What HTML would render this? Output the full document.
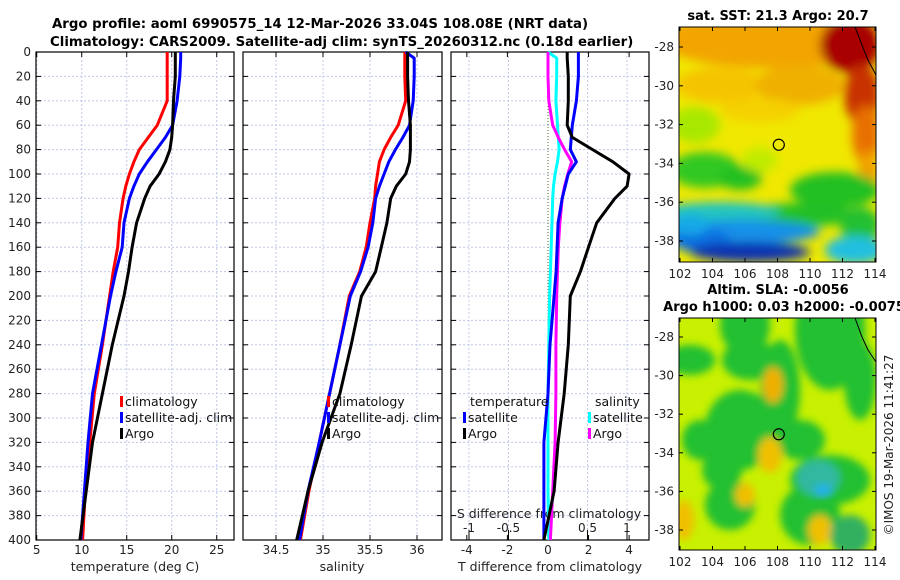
<!DOCTYPE html>
<html><head><meta charset="utf-8">
<style>
body{margin:0;background:#fff;}
svg{display:block;font-family:"DejaVu Sans","Liberation Sans",sans-serif;}
</style></head>
<body>
<svg id="c" width="900" height="580" viewBox="0 0 900 580">
<defs>
<filter id="bl" x="-30%" y="-30%" width="160%" height="160%"><feGaussianBlur stdDeviation="5"/></filter>
<filter id="bl2" x="-30%" y="-30%" width="160%" height="160%"><feGaussianBlur stdDeviation="4"/></filter>
<clipPath id="cp1"><rect x="679" y="27" width="197" height="235"/></clipPath>
<clipPath id="cp2"><rect x="679" y="318" width="197" height="232"/></clipPath>
</defs>
<text x="52" y="28" font-size="13.3" font-weight="bold">Argo profile: aoml 6990575_14 12-Mar-2026 33.04S 108.08E (NRT data)</text>
<text x="50" y="46" font-size="13.3" font-weight="bold">Climatology: CARS2009. Satellite-adj clim: synTS_20260312.nc (0.18d earlier)</text>
<g id="maps"></g>
<g id="plots"></g>
</svg>
<script>
// ---- data ----
const depths = [0,5,20,40,60,70,80,90,100,110,120,140,160,180,200,240,280,320,360,400];
const tClim = [19.5,19.5,19.5,19.5,18.4,17.4,16.4,15.8,15.3,14.9,14.6,14.2,14.0,13.5,13.1,12.3,11.4,10.9,10.4,10.1];
const tSat  = [21.0,21.0,20.9,20.6,20.1,19.3,18.3,17.3,16.4,15.8,15.3,14.7,14.5,13.8,13.2,12.2,11.2,10.7,10.3,9.9];
const tArgo = [20.4,20.4,20.4,20.2,20.1,20.0,19.8,19.3,18.6,17.6,17.0,16.1,15.6,15.2,14.7,13.4,12.3,11.2,10.5,9.8];
const sClim = [35.87,35.87,35.87,35.88,35.80,35.72,35.65,35.60,35.58,35.56,35.55,35.50,35.46,35.39,35.28,35.18,35.07,34.96,34.85,34.76];
const sSat  = [35.88,35.97,35.97,35.96,35.92,35.85,35.77,35.70,35.65,35.60,35.56,35.53,35.48,35.40,35.29,35.18,35.07,34.96,34.84,34.75];
const sArgo = [35.90,35.90,35.90,35.91,35.93,35.93,35.93,35.92,35.88,35.78,35.72,35.68,35.62,35.56,35.41,35.30,35.18,34.99,34.84,34.72];
const dtSat  = [1.5,1.5,1.5,1.4,1.2,1.15,1.1,1.4,1.0,0.85,0.7,0.5,0.45,0.4,0.3,0.1,0.0,-0.2,-0.2,-0.2];
const dtArgo = [0.95,0.95,1.0,1.0,0.95,1.2,2.2,3.2,4.0,3.9,3.3,2.4,2.0,1.6,1.1,1.0,0.8,0.5,0.3,-0.2];
const dsSat  = [0.0,0.11,0.11,0.1,0.12,0.13,0.14,0.12,0.09,0.07,0.06,0.05,0.04,0.03,0.02,0.01,0.0,0.0,0.0,0.01];
const dsArgo = [0.0,0.0,0.0,0.01,0.06,0.13,0.21,0.3,0.25,0.21,0.18,0.15,0.13,0.12,0.11,0.1,0.1,0.09,0.06,0.03];
const yTicks = [0,20,40,60,80,100,120,140,160,180,200,220,240,260,280,300,320,340,360,380,400];
const tTicks = [5,10,15,20,25];
const sTicks = [34.5,35,35.5,36];
const dtTicks = [-4,-2,0,2,4];
const dsTicks = [-1,-0.5,0,0.5,1];
const lonTicks = [102,104,106,108,110,112,114];
const latTicks = [-28,-30,-32,-34,-36,-38];
const argoLon = 108.08, argoLat = -33.04;

const NS='http://www.w3.org/2000/svg';
const P=document.getElementById('plots');
function el(tag,attrs,parent,txt){const e=document.createElementNS(NS,tag);for(const k in attrs)e.setAttribute(k,attrs[k]);if(txt!==undefined)e.textContent=txt;(parent||P).appendChild(e);return e;}
const yTop=52,yBot=540;
const yD=d=>yTop+(d/400)*(yBot-yTop);
const panels=[{x0:36,x1:234,min:4.92,max:26.92},{x0:243,x1:442,min:34.149,max:36.266},{x0:451,x1:649,min:-4.78,max:4.98}];
const sx=(p,v)=>p.x0+(v-p.min)/(p.max-p.min)*(p.x1-p.x0);
const sxDS=v=>548+v*79;

function frame(p,name,gridVals,gridFn){
  const g=el('g',{});
  
  
  gridVals.forEach(v=>{const x=gridFn(v);el('line',{x1:x,x2:x,y1:yTop,y2:yBot,stroke:'#c0c8e8','stroke-width':1,'stroke-dasharray':'2,2'},g);});
  yTicks.forEach(d=>{const y=yD(d);
    el('line',{x1:p.x0,x2:p.x1,y1:y,y2:y,stroke:'#c0c8e8','stroke-width':1,'stroke-dasharray':'2,2'},g);
    el('line',{x1:p.x0,x2:p.x0+5,y1:y,y2:y,stroke:'#000'},g);
    el('line',{x1:p.x1-5,x2:p.x1,y1:y,y2:y,stroke:'#000'},g);
  });
  el('rect',{x:p.x0,y:yTop,width:p.x1-p.x0,height:yBot-yTop,fill:'none',stroke:'#000','stroke-width':1.2},g);
  return g;
}
function line(xs,fx,color,name,w){
  const pts=depths.map((d,i)=>fx(xs[i]).toFixed(1)+','+yD(d).toFixed(1)).join(' ');
  const l=el('polyline',{points:pts,fill:'none',stroke:color,'stroke-width':w||3,'stroke-linejoin':'round'});
  
  
}
const p1=panels[0],p2=panels[1],p3=panels[2];
const g1=frame(p1,'temperature-panel',tTicks,v=>sx(p1,v));
tTicks.forEach(v=>{const x=sx(p1,v);el('line',{x1:x,x2:x,y1:yBot-5,y2:yBot,stroke:'#000'},g1);el('line',{x1:x,x2:x,y1:yTop,y2:yTop+5,stroke:'#000'},g1);
  const t=el('text',{x:x,y:554,'text-anchor':'middle','font-size':12,fill:'#222'},g1,String(v));});
yTicks.forEach(d=>{const t=el('text',{x:31,y:yD(d)+4,'text-anchor':'end','font-size':12,fill:'#222'},g1,String(d));});
const xt1=el('text',{x:135,y:571,'text-anchor':'middle','font-size':12.5,fill:'#222'},g1,'temperature (deg C)');


line(tClim,v=>sx(p1,v),'#ff0000','line-temp-climatology');
line(tSat,v=>sx(p1,v),'#0000ff','line-temp-satellite-adj');
line(tArgo,v=>sx(p1,v),'#000000','line-temp-argo');
const g2=frame(p2,'salinity-panel',sTicks,v=>sx(p2,v));
sTicks.forEach(v=>{const x=sx(p2,v);el('line',{x1:x,x2:x,y1:yBot-5,y2:yBot,stroke:'#000'},g2);el('line',{x1:x,x2:x,y1:yTop,y2:yTop+5,stroke:'#000'},g2);
  const t=el('text',{x:x,y:554,'text-anchor':'middle','font-size':12,fill:'#222'},g2,String(v));});
const xt2=el('text',{x:342,y:571,'text-anchor':'middle','font-size':12.5,fill:'#222'},g2,'salinity');


line(sClim,v=>sx(p2,v),'#ff0000','line-sal-climatology');
line(sSat,v=>sx(p2,v),'#0000ff','line-sal-satellite-adj');
line(sArgo,v=>sx(p2,v),'#000000','line-sal-argo');
const g3=frame(p3,'difference-panel',[-1,-0.5,0.5,1],sxDS);
el('line',{x1:548,x2:548,y1:yTop,y2:yBot,stroke:'#556b2f','stroke-width':1,'stroke-dasharray':'1,2'},g3);
dtTicks.forEach(v=>{const x=sx(p3,v);el('line',{x1:x,x2:x,y1:yBot-5,y2:yBot,stroke:'#000'},g3);el('line',{x1:x,x2:x,y1:yTop,y2:yTop+5,stroke:'#000'},g3);
  const t=el('text',{x:x,y:554,'text-anchor':'middle','font-size':12,fill:'#222'},g3,String(v));});
dsTicks.forEach(v=>{const x=sxDS(v);el('line',{x1:x,x2:x,y1:yBot-10,y2:yBot,stroke:'#000'},g3);
  const t=el('text',{x:x,y:532,'text-anchor':'middle','font-size':12,fill:'#222'},g3,String(v));});
const xt3=el('text',{x:550,y:571,'text-anchor':'middle','font-size':12.5,fill:'#222'},g3,'T difference from climatology');


const xt4=el('text',{x:549,y:518,'text-anchor':'middle','font-size':12.5,fill:'#222'},g3,'S difference from climatology');


line(dsSat,sxDS,'#00ffff','line-sdiff-satellite');
line(dsArgo,sxDS,'#ff00ff','line-sdiff-argo');
line(dtSat,v=>sx(p3,v),'#0000ff','line-tdiff-satellite');
line(dtArgo,v=>sx(p3,v),'#000000','line-tdiff-argo');
function legend(x,y,color,label,name){
  const g=el('g',{});
  
  
  if(color)el('rect',{x:x,y:y-9,width:3,height:11,fill:color},g);
  el('text',{x:x+5,y:y+1,'font-size':12.5,fill:'#111'},g,label);
}
legend(120,405,'#ff0000','climatology','legend-climatology');
legend(120,421,'#0000ff','satellite-adj. clim','legend-satellite-adj');
legend(120,437,'#000000','Argo','legend-argo');
legend(327,405,'#ff0000','climatology','legend-sal-climatology');
legend(327,421,'#0000ff','satellite-adj. clim','legend-sal-satellite-adj');
legend(327,437,'#000000','Argo','legend-sal-argo');
legend(465,405,null,'temperature','legend-title-temperature');
legend(463,421,'#0000ff','satellite','legend-tdiff-satellite');
legend(463,437,'#000000','Argo','legend-tdiff-argo');
legend(590,405,null,'salinity','legend-title-salinity');
legend(588,421,'#00ffff','satellite','legend-sdiff-satellite');
legend(588,437,'#ff00ff','Argo','legend-sdiff-argo');

const M=document.getElementById('maps');
function mapFrame(y0,h,lat28y,lat38y,name,title1,title2){
  const g=el('g',{},M);
  
  
  const lx=v=>680+(v-102)/12*195;
  const ly=v=>lat28y+(-28-v)/10*(lat38y-lat28y);
  lonTicks.forEach(v=>{const x=lx(v);el('line',{x1:x,x2:x,y1:y0+h-4,y2:y0+h,stroke:'#000'},g);el('line',{x1:x,x2:x,y1:y0,y2:y0+4,stroke:'#000'},g);
    el('text',{x:x,y:y0+h+16,'text-anchor':'middle','font-size':12,fill:'#222'},g,String(v));});
  latTicks.forEach(v=>{const y=ly(v);el('line',{x1:679,x2:683,y1:y,y2:y,stroke:'#000'},g);el('line',{x1:872,x2:876,y1:y,y2:y,stroke:'#000'},g);
    el('text',{x:674,y:y+4,'text-anchor':'end','font-size':12,fill:'#222'},g,String(v));});
  el('rect',{x:679,y:y0,width:197,height:h,fill:'none',stroke:'#000'},g);
  el('circle',{cx:lx(argoLon),cy:ly(argoLat),r:5.5,fill:'none',stroke:'#000','stroke-width':1.2},g);
  el('text',{x:778,y:title2?y0-24:y0-7,'text-anchor':'middle','font-size':13,'font-weight':'bold'},g,title1);
  if(title2)el('text',{x:784,y:y0-7,'text-anchor':'middle','font-size':13,'font-weight':'bold'},g,title2);
  return g;
}
const s=el('g',{'clip-path':'url(#cp1)'},M);


el('rect',{x:679,y:27,width:197,height:235,fill:'#f0e800'},s);
const sb=el('g',{filter:'url(#bl)'},s);
[['#f2a400',770,40,110,28],['#f5c400',720,85,45,18],['#f0b000',800,85,45,20],['#f5d000',760,110,40,12],
 ['#a80000',850,45,30,28],['#c83000',862,95,18,30],['#e87000',866,135,14,30],['#f0a000',868,175,10,25],
 ['#a8e800',695,125,25,18],['#30c820',705,170,35,18],['#20c020',740,178,22,12],['#c0ec00',760,160,18,12],
 ['#20c020',835,190,45,18],['#20c028',800,215,55,12],['#20c030',860,225,20,18],
 ['#20c4c0',720,212,60,10],['#1890e8',740,232,80,12],['#1070e0',700,240,30,12],['#0830b0',750,252,60,10],['#20c0e0',855,250,30,14],['#18a8e8',690,225,20,10]
].forEach(r=>el('ellipse',{cx:r[1],cy:r[2],rx:r[3],ry:r[4],fill:r[0]},sb));
el('path',{d:'M855,27 L862,45 L868,60 L876,75',fill:'none',stroke:'#000'},s);
mapFrame(27,235,47,241,'sst-map','sat. SST: 21.3 Argo: 20.7');
const a=el('g',{'clip-path':'url(#cp2)'},M);


el('rect',{x:679,y:318,width:197,height:232,fill:'#c8f000'},a);
const ab=el('g',{filter:'url(#bl2)'},a);
[['#20c030',745,325,25,30],['#20c030',690,360,25,15],['#20c030',750,360,28,20],['#20c030',780,390,20,50],['#20c030',740,430,35,40],
 ['#20c030',700,440,18,20],['#20c030',800,440,25,20],['#20c030',830,330,35,60],['#20c030',860,380,16,40],['#20c030',810,515,30,30],
 ['#20c030',830,480,40,25],['#20c030',730,505,25,25],['#20c030',722,470,20,20],['#30b8a0',818,478,22,18],['#f0b000',773,385,10,18],
 ['#f0c000',770,455,12,18],['#f0c000',684,520,10,20],['#f0c000',745,495,10,12],['#f0c000',820,530,12,15],['#30b060',850,535,20,20]
].forEach(r=>el('ellipse',{cx:r[1],cy:r[2],rx:r[3],ry:r[4],fill:r[0]},ab));
el('ellipse',{cx:823,cy:490,rx:9,ry:6,fill:'#20b0f0',filter:'url(#bl2)'},a);
el('path',{d:'M855,318 L862,337 L868,350 L876,362',fill:'none',stroke:'#000'},a);
mapFrame(318,232,337,530,'sla-map','Altim. SLA: -0.0056','Argo h1000: 0.03 h2000: -0.0075');
const im=el('text',{x:893,y:445,'font-size':12,fill:'#222',transform:'rotate(-90 893 445)','text-anchor':'middle'},M,'\u00A9IMOS 19-Mar-2026 11:41:27');


</script>
</body></html>
